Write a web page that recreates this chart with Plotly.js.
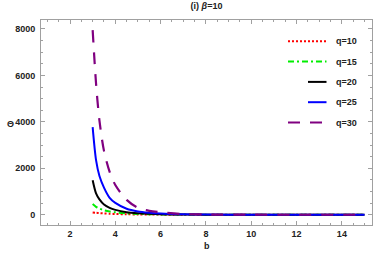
<!DOCTYPE html>
<html>
<head>
<meta charset="utf-8">
<script src="https://cdn.plot.ly/plotly-3.0.1.min.js"></script>
<style>html,body{margin:0;padding:0;background:#fff;}#chart{width:374px;height:254px;}</style>
</head>
<body>
<div id="chart"></div>
<script>
// Data
const b = [3, 3.15, 3.3, 3.5, 3.75, 4, 4.5, 5, 5.5, 6, 7, 8, 10, 12, 15];
const q10 = [100, 85, 72, 58, 44, 34, 21, 13, 9, 6, 3, 1, 0, 0, 0];
const q15 = [458, 340, 265, 195, 140, 105, 60, 35, 22, 14, 6, 3, 1, 0, 0];
const q20 = [1485, 920, 660, 440, 295, 210, 110, 65, 40, 25, 10, 4, 1, 0, 0];
const q25 = [3770, 2350, 1670, 1170, 730, 510, 260, 145, 90, 55, 20, 8, 2, 0, 0];
const q30 = [7950, 5650, 4050, 2750, 1850, 1280, 640, 300, 170, 110, 30, 10, 2, 0, 0];
const seriesNames = ["q=10", "q=15", "q=20", "q=25", "q=30"];
const xTicks = [2, 4, 6, 8, 10, 12, 14];
const yTicks = [0, 2000, 4000, 6000, 8000];

const series = [q10, q15, q20, q25, q30];
const colors = ["#ff0000", "#00ee00", "#000000", "#0000ff", "#800080"];
const dashes = ["2px,2px", "6px,3px,2px,3px", "solid", "solid", "12px,10px"];
const widths = [2, 2, 2, 2, 2.2];

const traces = series.map((s, i) => ({
  x: b, y: s, type: "scatter", mode: "lines", name: seriesNames[i],
  line: {color: colors[i], dash: dashes[i], width: widths[i], shape: "spline", smoothing: 0.8},
  showlegend: false
}));

// plot-area geometry in pixels (for legend placement)
const W = 374, H = 254, L = 41, R = 2, T = 20, B = 29;
const pw = W - L - R, ph = H - T - B;
const px = x => (x - L) / pw;
const py = y => (H - B - y) / ph;

const legY = [41.3, 61.6, 81.9, 102.2, 122.5];
const legX0 = [288, 288, 308, 308, 288];
const shapes = [], annotations = [];
const lblFont = {family: "Liberation Sans, Arial, sans-serif", size: 9, color: "#222", weight: "bold"};
seriesNames.forEach((n, i) => {
  shapes.push({type: "line", xref: "paper", yref: "paper",
    x0: px(legX0[i]), x1: px(326.5), y0: py(legY[i]), y1: py(legY[i]),
    line: {color: colors[i], dash: dashes[i], width: widths[i]}});
  annotations.push({xref: "paper", yref: "paper", x: px(334), y: py(legY[i]),
    xanchor: "left", yanchor: "middle", text: n, showarrow: false, font: lblFont});
});
annotations.push({xref: "paper", yref: "paper", x: 0.5, y: py(246), xanchor: "center", yanchor: "middle",
  text: "b", showarrow: false, font: lblFont});
annotations.push({xref: "paper", yref: "paper", x: px(10), y: py(123.5), xanchor: "center", yanchor: "middle",
  text: "Θ", showarrow: false, font: lblFont});

const axCommon = {
  showgrid: false, zeroline: false, showline: true, linecolor: "#a0a0a0", linewidth: 1,
  mirror: "allticks", ticks: "inside", ticklen: 4, tickcolor: "#a0a0a0", tickwidth: 1,
  tickfont: lblFont
};

const layout = {
  width: W, height: H,
  margin: {l: L, r: R, t: T, b: B},
  paper_bgcolor: "#fff", plot_bgcolor: "#fff",
  title: {text: "(i) <i>β</i>=10", font: lblFont, x: 0.5, xref: "paper", y: 1 - 6 / H, yanchor: "middle"},
  xaxis: Object.assign({}, axCommon, {range: [0.72, 15.33], tickmode: "array", tickvals: xTicks,
    minor: {dtick: 0.5, tick0: 0, ticks: "inside", ticklen: 2, tickcolor: "#a0a0a0"}}),
  yaxis: Object.assign({}, axCommon, {range: [-441, 8385], tickmode: "array", tickvals: yTicks,
    ticklabelstandoff: 3,
    minor: {dtick: 500, tick0: 0, ticks: "inside", ticklen: 2, tickcolor: "#a0a0a0"}}),
  shapes: shapes, annotations: annotations, showlegend: false
};

Plotly.newPlot("chart", traces, layout, {displayModeBar: false, staticPlot: true});
</script>
</body>
</html>
